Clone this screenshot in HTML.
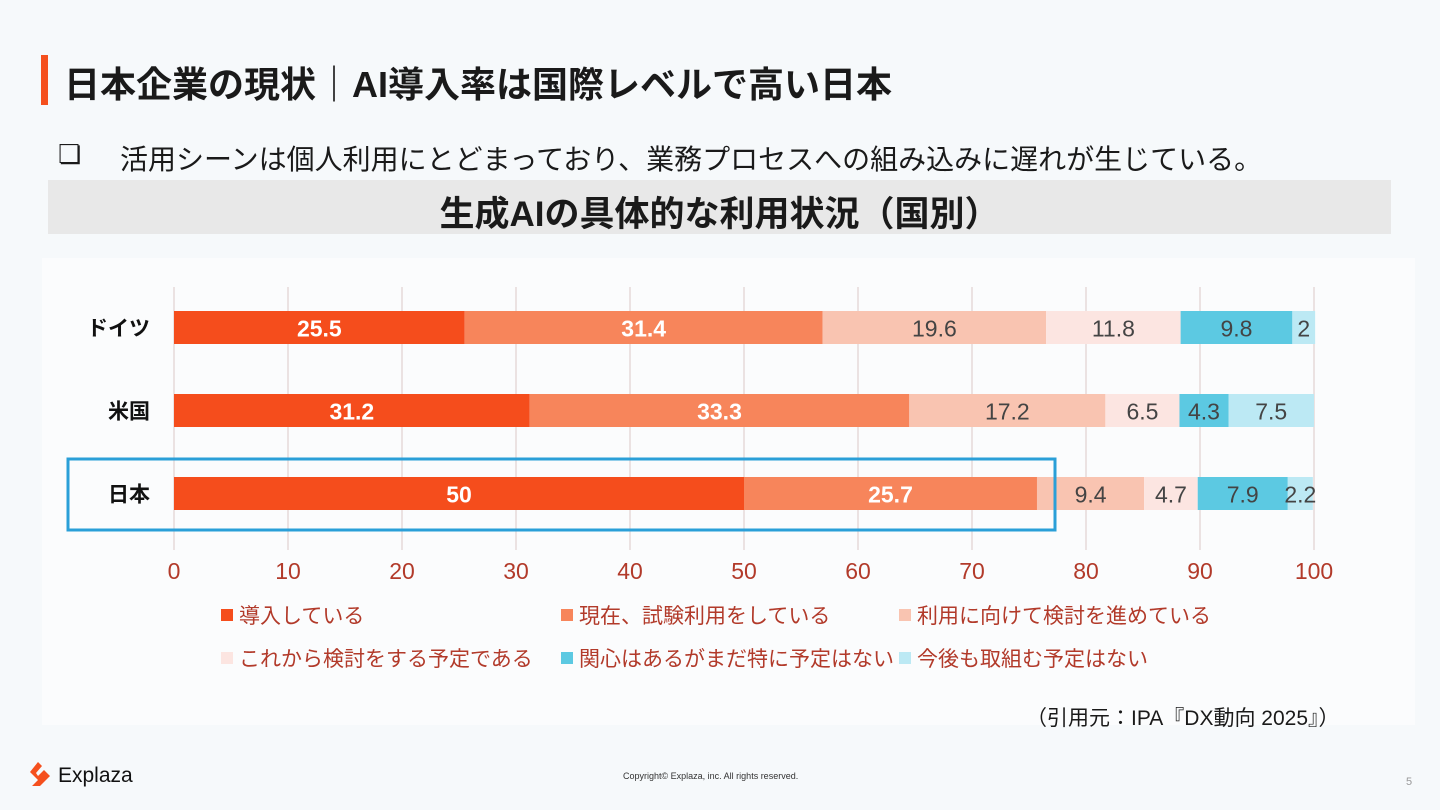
<!DOCTYPE html>
<html><head><meta charset="utf-8">
<style>
body{margin:0;width:1440px;height:810px;background:#f6f9fb;font-family:"Liberation Sans","Noto Sans CJK JP",sans-serif;position:relative;overflow:hidden;color:#1a1a1a}
.abs{position:absolute}
</style></head><body>
<div class="abs" style="left:41px;top:55px;width:7px;height:50px;background:#f5501e"></div>
<div class="abs" style="left:64px;top:56px;font-size:36px;font-weight:bold;white-space:nowrap">日本企業の現状｜AI導入率は国際レベルで高い日本</div>
<div class="abs" style="left:58px;top:139px;font-size:26px">❏</div>
<div class="abs" style="left:120px;top:138px;font-size:28px;white-space:nowrap">活用シーンは個人利用にとどまっており、業務プロセスへの組み込みに遅れが生じている。</div>
<div class="abs" style="left:48px;top:180px;width:1343px;height:54px;background:#e8e8e8"></div>
<div class="abs" style="left:48px;top:186px;width:1343px;text-align:center;font-size:35px;font-weight:bold">生成AIの具体的な利用状況（国別）</div>
<div class="abs" style="left:42px;top:258px;width:1373px;height:467px;background:#fbfcfd"></div>
<svg id="chart" class="abs" style="left:0;top:0" width="1440" height="810"></svg>
<div class="abs" style="left:1026px;top:702px;font-size:21px;white-space:nowrap">（引用元：IPA『DX動向 2025』）</div>
<svg class="abs" style="left:28px;top:762px" width="24" height="26"><path d="M10 0 L2 10 L10 18 L4 24 L12 24 L22 14 L16 8 L10 14 L8 11 L14 4Z" fill="#f5501e"/></svg>
<div class="abs" style="left:58px;top:764px;font-size:21px;color:#111">Explaza</div>
<div class="abs" style="left:623px;top:771px;font-size:9px;color:#333">Copyright© Explaza, inc. All rights reserved.</div>
<div class="abs" style="left:1406px;top:776px;font-size:11px;color:#999">5</div>
<script>
const countries=["ドイツ","米国","日本"];
const seriesNames=["導入している","現在、試験利用をしている","利用に向けて検討を進めている","これから検討をする予定である","関心はあるがまだ特に予定はない","今後も取組む予定はない"];
const sDeploy=[25.5,31.2,50];
const sTrial=[31.4,33.3,25.7];
const sPlan=[19.6,17.2,9.4];
const sFuture=[11.8,6.5,4.7];
const sInterest=[9.8,4.3,7.9];
const sNone=[2,7.5,2.2];
const ticks=[0,10,20,30,40,50,60,70,80,90,100];
const series=[sDeploy,sTrial,sPlan,sFuture,sInterest,sNone];
const colors=["#f54d1c","#f7855b","#f9c4b1","#fce5e1","#5cc9e2","#bce9f4"];
const labelColors=["#fff","#fff","#444","#444","#444","#444"];
const NS="http://www.w3.org/2000/svg";
const svg=document.getElementById('chart');
const x=v=>174+v*11.4;
const yRow=i=>311+i*83;
const bh=33;
function mk(t,a){const e=document.createElementNS(NS,t);for(const k in a)e.setAttribute(k,a[k]);svg.appendChild(e);return e;}
ticks.forEach(t=>{
 const g=mk('line',{x1:x(t),x2:x(t),y1:287,y2:550,stroke:'#e6d9d9','stroke-width':1.5});
 
 
 const l=mk('text',{x:x(t),y:579,'text-anchor':'middle','font-size':23,fill:'#b23a2a'});
 l.textContent=t;
 
 
});
countries.forEach((c,i)=>{
 const l=mk('text',{x:150,y:yRow(i)+bh/2+8,'text-anchor':'end','font-size':21,'font-weight':'bold',fill:'#111'});
 l.textContent=c;
 
 
 let acc=0;
 series.forEach((s,j)=>{
  const v=s[i];
  const r=mk('rect',{x:x(acc),y:yRow(i),width:x(acc+v)-x(acc),height:bh,fill:colors[j]});
  
  
  const t=mk('text',{x:(x(acc)+x(acc+v))/2,y:yRow(i)+bh/2+9,'text-anchor':'middle','font-size':23,'font-weight':j<2?'bold':'normal',fill:labelColors[j]});
  t.textContent=v;
  
  
  acc+=v;
 });
});
const hb=mk('rect',{x:68,y:459,width:987,height:71,fill:'none',stroke:'#2a9fd8','stroke-width':3});


const lx=[222,562,900],ly=[615,658];
seriesNames.forEach((n,j)=>{
 const cx=lx[j%3],cy=ly[Math.floor(j/3)];
 const r=mk('rect',{x:cx-1,y:cy-6,width:12,height:12,fill:colors[j]});
 
 
 const t=mk('text',{x:cx+17,y:cy+8,'font-size':21,fill:'#b23a2a'});
 t.textContent=n;
 
 
});
</script>
</body></html>
